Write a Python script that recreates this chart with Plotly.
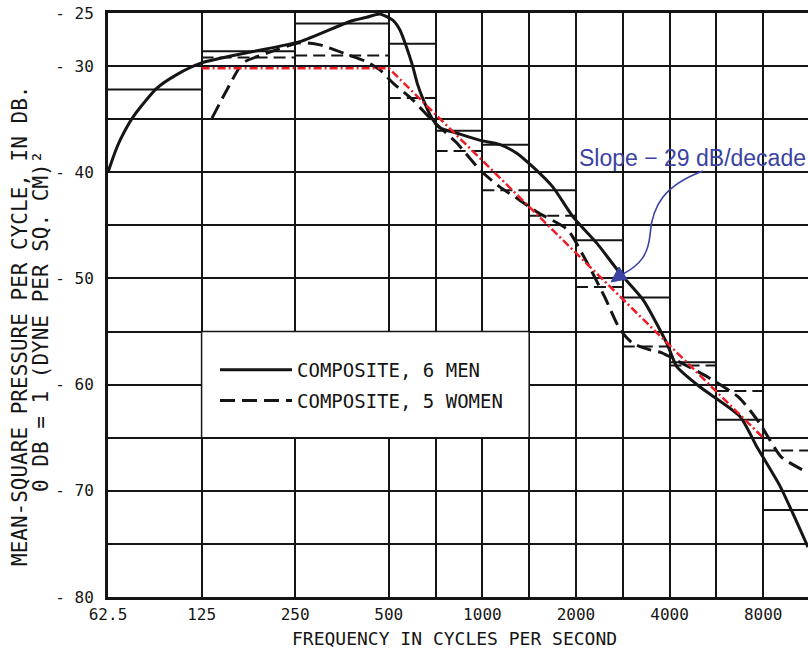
import plotly.graph_objects as go

# ---------------- data ----------------
men_freq = [62.5, 64.9, 68.3, 75.2, 89.6, 104, 125, 178, 259, 375, 425, 468,
            516, 543, 570, 598, 617, 640, 688, 729, 825, 984, 1140, 1290, 1454,
            1686, 1957, 2337, 2770, 3285, 3920, 4220, 5000, 6740, 7650, 9080, 11150]
men_db = [-40.0, -38.6, -37.0, -34.8, -32.1, -30.8, -29.7, -28.7, -27.7, -25.8, -25.4, -25.1,
          -25.7, -26.6, -28.2, -30.1, -31.6, -32.9, -34.9, -35.8, -36.3, -37.0, -37.4, -38.2, -39.5,
          -41.4, -44.2, -46.7, -49.5, -52.0, -56.1, -58.3, -60.2, -63.0, -65.9, -69.6, -75.3]

women_freq = [135, 151, 170, 202, 259, 300, 375, 425, 470, 516, 598, 688, 745, 825, 984,
              1140, 1315, 1510, 1877, 2170, 2470, 2770, 3040, 3440, 3780, 4330, 5320, 6680,
              7780, 9140, 11150]
women_db = [-34.9, -32.2, -29.7, -28.8, -27.8, -28.0, -29.0, -29.6, -30.4, -31.6, -33.2, -35.1,
            -36.0, -37.2, -39.8, -41.4, -42.6, -43.8, -45.4, -48.5, -51.7, -54.8, -56.1, -56.7,
            -57.0, -57.9, -59.3, -61.2, -63.6, -66.8, -68.3]

# band levels (octave bands below 500 c.p.s., half-octave bands above)
band_edges = [62.5, 125, 250, 500, 707.1, 1000, 1414.2, 2000, 2828.4, 4000, 5656.9, 8000, 11313.7]
men_band_db = [-32.2, -28.6, -26.0, -27.9, -36.1, -37.4, -41.7, -46.4, -51.8, -57.9, -63.3, -71.8]
women_band_db = [None, -29.2, -29.0, -33.0, -38.0, -41.7, -44.1, -50.8, -56.4, -58.2, -60.6, -66.2]

# fitted slope line
slope_freq = [125, 500, 8000]
slope_db = [-30.2, -30.2, -65.0]

x_tick_vals = [62.5, 125, 250, 500, 707.1, 1000, 1414.2, 2000, 2828.4, 4000, 5656.9, 8000]
x_tick_text = ["62.5", "125", "250", "500", "", "1000", "", "2000", "", "4000", "", "8000"]
y_tick_vals = [-25, -30, -35, -40, -45, -50, -55, -60, -65, -70, -75, -80]
y_tick_text = ["- 25", "- 30", "", "- 40", "", "- 50", "", "- 60", "", "- 70", "", "- 80"]

legend_box_freq = [125, 1414.2]
legend_box_db = [-65, -55]

# ---------------- figure ----------------
INK = "#151515"
BLUE = "#3a42a2"
MONO = "DejaVu Sans Mono"


def band_segments(levels):
    xs, ys = [], []
    for i, lv in enumerate(levels):
        if lv is None:
            continue
        xs += [band_edges[i], band_edges[i + 1], None]
        ys += [lv, lv, None]
    return xs, ys


fig = go.Figure()

mx, my = band_segments(men_band_db)
fig.add_trace(go.Scatter(x=mx, y=my, mode="lines", showlegend=False, hoverinfo="skip",
                         line=dict(color=INK, width=2)))
wx, wy = band_segments(women_band_db)
fig.add_trace(go.Scatter(x=wx, y=wy, mode="lines", showlegend=False, hoverinfo="skip",
                         line=dict(color=INK, width=2, dash="12px,6px")))

fig.add_trace(go.Scatter(x=men_freq, y=men_db, mode="lines", name="COMPOSITE, 6 MEN",
                         legendgroup="m",
                         line=dict(color=INK, width=3, shape="spline", smoothing=0.6)))
fig.add_trace(go.Scatter(x=women_freq, y=women_db, mode="lines", name="COMPOSITE, 5 WOMEN",
                         legendgroup="w",
                         line=dict(color=INK, width=3, shape="spline", smoothing=0.6,
                                   dash="15px,7px")))

fig.add_trace(go.Scatter(x=slope_freq, y=slope_db, mode="lines", showlegend=False,
                         hoverinfo="skip",
                         line=dict(color="#ee1c25", width=2.5, dash="8px,3px,2px,3px")))

# white legend panel hiding the grid
fig.add_shape(type="rect", xref="x", yref="y", layer="between",
              x0=legend_box_freq[0], x1=legend_box_freq[1],
              y0=legend_box_db[0], y1=legend_box_db[1],
              fillcolor="white", line=dict(color=INK, width=1.5))

# curved annotation arrow (paper coordinates)
def P(px, py):
    return f"{(px - 108) / 700:.4f},{(597 - py) / 584:.4f}"

arrow_path = ("M " + P(703, 171) + " C " + P(665, 185) + " " + P(652, 205) + " " + P(650, 235)
              + " C " + P(648, 255) + " " + P(640, 265) + " " + P(623, 274))
fig.add_shape(type="path", xref="paper", yref="paper", path=arrow_path,
              line=dict(color=BLUE, width=1.6))
head_path = "M " + P(611, 282) + " L " + P(627, 279) + " L " + P(619, 267) + " Z"
fig.add_shape(type="path", xref="paper", yref="paper", path=head_path,
              fillcolor=BLUE, line=dict(color=BLUE, width=1))

fig.add_annotation(text="Slope − 29 dB/decade", xref="paper", yref="paper",
                   x=(692 - 108) / 700, y=(597 - 158) / 584, xanchor="center", yanchor="middle",
                   showarrow=False, font=dict(family="Liberation Sans, Arial", size=23, color=BLUE))

# axis titles
fig.add_annotation(text="FREQUENCY IN CYCLES PER SECOND", xref="paper", yref="paper",
                   x=(454 - 108) / 700, y=(597 - 638) / 584, xanchor="center", yanchor="middle",
                   showarrow=False, font=dict(family=MONO, size=18, color=INK))
fig.add_annotation(text="MEAN-SQUARE PRESSURE PER CYCLE, IN DB.", xref="paper", yref="paper",
                   x=(20 - 108) / 700, y=(597 - 326) / 584, xanchor="center", yanchor="middle",
                   textangle=-90, showarrow=False, font=dict(family=MONO, size=21, color=INK))
fig.add_annotation(text="0 DB = 1 (DYNE PER SQ. CM)²", xref="paper", yref="paper",
                   x=(41 - 108) / 700, y=(597 - 322) / 584, xanchor="center", yanchor="middle",
                   textangle=-90, showarrow=False, font=dict(family=MONO, size=21, color=INK))

fig.update_layout(
    width=808, height=649,
    margin=dict(l=108, r=0, t=13, b=52),
    paper_bgcolor="white", plot_bgcolor="white",
    showlegend=True,
    legend=dict(x=(215 - 108) / 700, y=(597 - 351) / 584, xanchor="left", yanchor="top",
                bgcolor="rgba(0,0,0,0)", borderwidth=0, itemwidth=72,
                tracegroupgap=3, traceorder="grouped",
                font=dict(family=MONO, size=19, color=INK)),
    xaxis=dict(type="log", range=[1.79588, 4.0473],
               tickvals=x_tick_vals, ticktext=x_tick_text,
               showgrid=True, gridcolor=INK, gridwidth=1.5,
               showline=True, linecolor=INK, linewidth=3, mirror=True,
               ticks="", ticklabelstandoff=1,
               tickfont=dict(family=MONO, size=16, color=INK), zeroline=False),
    yaxis=dict(range=[-80, -25], tickvals=y_tick_vals, ticktext=y_tick_text,
               showgrid=True, gridcolor=INK, gridwidth=1.5,
               showline=True, linecolor=INK, linewidth=3, mirror=False,
               ticks="", ticklabelstandoff=8,
               tickfont=dict(family=MONO, size=16, color=INK), zeroline=False),
)

fig.write_html("out.html")
